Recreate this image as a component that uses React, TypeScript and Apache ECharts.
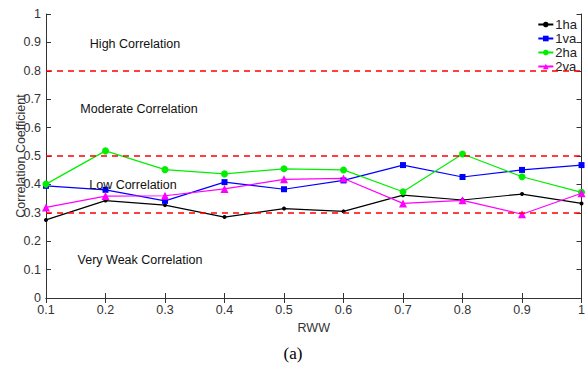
import React, { useEffect, useRef } from "react";
import * as echarts from "echarts";

const categories = ["0.1", "0.2", "0.3", "0.4", "0.5", "0.6", "0.7", "0.8", "0.9", "1"];
const s1ha = [0.275, 0.343, 0.327, 0.285, 0.315, 0.305, 0.362, 0.345, 0.366, 0.333];
const s1va = [0.395, 0.381, 0.342, 0.408, 0.383, 0.414, 0.468, 0.426, 0.451, 0.468];
const s2ha = [0.401, 0.518, 0.452, 0.437, 0.455, 0.451, 0.374, 0.507, 0.427, 0.372];
const s2va = [0.319, 0.359, 0.36, 0.384, 0.418, 0.421, 0.333, 0.344, 0.295, 0.369];
const thresholds = [0.3, 0.5, 0.8];
const regionLabels = ["High Correlation", "Moderate Correlation", "Low Correlation", "Very Weak Correlation"];

export default function App() {
  const ref = useRef<HTMLDivElement>(null);
  useEffect(() => {
    const chart = echarts.init(ref.current!, null, { renderer: "svg" });
    const axisColor = "#333333";
    const font = "Liberation Sans, Arial, sans-serif";
    const mk = (name: string, data: number[], color: string, symbol: string, size: number) => ({
      name,
      type: "line",
      data,
      symbol,
      symbolSize: size,
      itemStyle: { color },
      lineStyle: { color, width: 1.2 },
      z: 3,
    });
    const series: any[] = [
      mk("1ha", s1ha, "#000000", "circle", 4),
      mk("1va", s1va, "#0000ff", "rect", 6),
      mk("2ha", s2ha, "#00ee00", "circle", 7),
      mk("2va", s2va, "#ff00ff", "triangle", 8),
    ];
    series[0].markLine = {
      silent: true,
      symbol: "none",
      label: { show: false },
      lineStyle: { color: "#ff0000", type: [6, 5], width: 1.5 },
      data: thresholds.map((v) => ({ yAxis: v })),
    };
    const labelPos = [
      { x: 135, y: 44 },
      { x: 139, y: 109 },
      { x: 133, y: 185 },
      { x: 140, y: 260 },
    ];
    chart.setOption({
      animation: false,
      textStyle: { fontFamily: font },
      grid: { left: 46, right: 6, top: 14, bottom: 71 },
      legend: {
        right: 6,
        top: 13,
        orient: "vertical",
        itemGap: 1,
        itemWidth: 15,
        itemHeight: 7,
        textStyle: { fontSize: 13, color: "#222", fontFamily: font, padding: [0, 0, 0, -3] },
        data: ["1ha", "1va", "2ha", "2va"],
      },
      xAxis: [
        {
          type: "category",
          data: categories,
          boundaryGap: false,
          name: "RWW",
          nameLocation: "middle",
          nameGap: 23,
          nameMoveOverlap: false,
          nameTextStyle: { fontSize: 12.5, color: axisColor },
          axisLine: { lineStyle: { color: axisColor } },
          axisTick: { inside: true, alignWithLabel: true, length: 5, lineStyle: { color: axisColor } },
          axisLabel: { fontSize: 12.5, color: axisColor, margin: 5 },
          splitLine: { show: false },
        },
        {
          type: "category",
          data: categories,
          boundaryGap: false,
          position: "top",
          axisLine: { lineStyle: { color: axisColor } },
          axisTick: { inside: true, alignWithLabel: true, length: 5, lineStyle: { color: axisColor } },
          axisLabel: { show: false },
        },
      ],
      yAxis: [
        {
          type: "value",
          min: 0,
          max: 1,
          interval: 0.1,
          name: "Correlation Coefficient",
          nameLocation: "middle",
          nameGap: 19,
          nameMoveOverlap: false,
          nameTextStyle: { fontSize: 12.5, color: axisColor },
          axisLine: { show: true, lineStyle: { color: axisColor } },
          axisTick: { show: true, inside: true, length: 5, lineStyle: { color: axisColor } },
          axisLabel: {
            fontSize: 12.5,
            color: axisColor,
            margin: 5,
            formatter: (v: number) => (v === 0 || v === 1 ? String(v) : v.toFixed(1)),
          },
          splitLine: { show: false },
        },
        {
          type: "value",
          min: 0,
          max: 1,
          interval: 0.1,
          position: "right",
          axisLine: { show: true, lineStyle: { color: axisColor } },
          axisTick: { show: true, inside: true, length: 5, lineStyle: { color: axisColor } },
          axisLabel: { show: false },
          splitLine: { show: false },
        },
      ],
      series,
      graphic: [
        ...regionLabels.map((t, i) => ({
          type: "text",
          x: labelPos[i].x,
          y: labelPos[i].y,
          z: 10,
          style: {
            text: t,
            fontSize: 12.5,
            fontFamily: font,
            fill: "#111",
            textAlign: "center",
            textVerticalAlign: "middle",
          },
        })),
        {
          type: "text",
          x: 293,
          y: 353,
          style: {
            text: "(a)",
            fontSize: 17,
            fontFamily: "Liberation Serif, Times New Roman, serif",
            fill: "#000",
            textAlign: "center",
            textVerticalAlign: "middle",
          },
        },
      ],
    });
    return () => chart.dispose();
  }, []);
  return <div ref={ref} style={{ position: "absolute", left: 0, top: 0, width: 588, height: 369, background: "#fff" }} />;
}
